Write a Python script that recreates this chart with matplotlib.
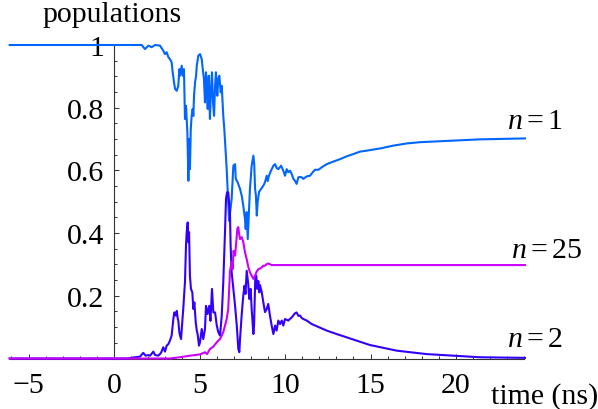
import matplotlib
matplotlib.use("Agg")
import matplotlib.pyplot as plt
from matplotlib.ticker import FixedLocator, MultipleLocator

# ---------------- data ----------------
t_n1 = [-6.1, 1.62, 1.81, 2.01, 2.20, 2.40, 2.69, 2.88, 2.98, 3.08, 3.18, 3.27, 3.37, 3.43,
        3.51, 3.57, 3.67, 3.76, 3.82, 3.86, 3.96, 4.02, 4.09, 4.15, 4.21, 4.29, 4.35, 4.40,
        4.44, 4.49, 4.54, 4.60, 4.64, 4.68, 4.74, 4.80, 4.84, 4.93, 5.03, 5.13, 5.19, 5.26,
        5.32, 5.38, 5.42, 5.48, 5.54, 5.61, 5.67, 5.73, 5.79, 5.85, 5.91, 5.96, 6.04, 6.10,
        6.16, 6.24, 6.30, 6.39, 6.45, 6.51, 6.55, 6.59, 6.73, 6.88, 6.98, 7.08, 7.12, 7.23,
        7.37, 7.47, 7.56, 7.66, 7.70, 7.76, 7.82, 7.89, 7.95, 8.05, 8.15, 8.20, 8.25, 8.30,
        8.35, 8.40, 8.48, 8.60, 8.73, 8.83, 8.93, 8.99, 9.06, 9.18, 9.32, 9.42, 9.51, 9.61,
        9.77, 9.90, 10.00, 10.10, 10.19, 10.29, 10.39, 10.49, 10.58, 10.68, 10.78, 10.88,
        10.98, 11.07, 11.27, 11.46, 11.65, 11.75, 11.95, 12.15, 12.44, 12.82, 13.22, 13.61,
        13.99, 14.39, 14.78, 15.56, 16.33, 17.12, 17.89, 18.67, 19.46, 20.23, 21.40, 24.03]
p_n1 = [1.0, 1.0, 0.987, 0.998, 0.993, 1.0, 0.998, 0.982, 0.971, 0.977, 0.961, 0.955, 0.945, 0.913,
        0.881, 0.860, 0.854, 0.870, 0.923, 0.902, 0.934, 0.902, 0.923, 0.764, 0.806, 0.722, 0.567, 0.700,
        0.604, 0.732, 0.774, 0.796, 0.774, 0.838, 0.881, 0.902, 0.934, 0.966, 0.971, 0.955, 0.923, 0.892,
        0.817, 0.913, 0.860, 0.796, 0.902, 0.764, 0.860, 0.913, 0.817, 0.774, 0.870, 0.913, 0.838, 0.892,
        0.902, 0.849, 0.870, 0.774, 0.732, 0.679, 0.647, 0.604, 0.439, 0.509, 0.615, 0.620, 0.573, 0.562,
        0.541, 0.519, 0.487, 0.445, 0.413, 0.467, 0.381, 0.467, 0.541, 0.615, 0.647, 0.620, 0.541, 0.519,
        0.456, 0.499, 0.531, 0.541, 0.551, 0.562, 0.583, 0.566, 0.583, 0.599, 0.615, 0.620, 0.608, 0.604,
        0.615, 0.599, 0.583, 0.604, 0.594, 0.599, 0.589, 0.573, 0.567, 0.557, 0.578, 0.579,
        0.578, 0.573, 0.581, 0.583, 0.596, 0.602, 0.602, 0.610, 0.620, 0.628, 0.636, 0.645,
        0.652, 0.660, 0.663, 0.670, 0.679, 0.686, 0.690, 0.692, 0.694, 0.696, 0.699, 0.702]

t_n2 = [-6.1, 0.76, 1.23, 1.52, 1.71, 1.85, 2.01, 2.11, 2.30, 2.40, 2.59, 2.75, 2.88, 2.98,
        3.08, 3.18, 3.27, 3.37, 3.47, 3.53, 3.61, 3.67, 3.73, 3.76, 3.82, 3.86, 3.92, 3.99,
        4.05, 4.11, 4.15, 4.21, 4.25, 4.31, 4.35, 4.39, 4.44, 4.50, 4.58, 4.64, 4.70, 4.78,
        4.84, 4.89, 4.97, 5.03, 5.13, 5.22, 5.32, 5.38, 5.47, 5.57, 5.64, 5.73, 5.81, 5.91,
        6.01, 6.10, 6.20, 6.30, 6.39, 6.49, 6.55, 6.61, 6.68, 6.78, 6.82, 6.88, 6.98, 7.08,
        7.18, 7.27, 7.33, 7.37, 7.47, 7.56, 7.63, 7.69, 7.76, 7.85, 7.91, 7.99, 8.05, 8.15,
        8.19, 8.26, 8.32, 8.38, 8.44, 8.50, 8.54, 8.64, 8.73, 8.83, 8.93, 9.02, 9.12, 9.22,
        9.32, 9.42, 9.51, 9.61, 9.71, 9.81, 9.90, 10.00, 10.19, 10.39, 10.58, 10.68, 10.78,
        10.88, 10.98, 11.07, 11.27, 11.56, 11.85, 12.44, 13.02, 13.80, 14.97, 16.53, 18.29,
        19.84, 21.40, 24.03]
p_n2 = [0.0, 0.0, 0.004, 0.006, 0.018, 0.009, 0.011, 0.009, 0.022, 0.011, 0.009, 0.018, 0.036, 0.022,
        0.041, 0.046, 0.057, 0.073, 0.126, 0.147, 0.137, 0.152, 0.126, 0.121, 0.084, 0.073, 0.062, 0.115,
        0.158, 0.211, 0.243, 0.360, 0.403, 0.434, 0.371, 0.403, 0.264, 0.222, 0.211, 0.158, 0.179, 0.115,
        0.089, 0.078, 0.041, 0.052, 0.094, 0.062, 0.094, 0.168, 0.142, 0.168, 0.120, 0.222, 0.147, 0.147,
        0.105, 0.084, 0.073, 0.137, 0.243, 0.403, 0.509, 0.530, 0.530, 0.466, 0.360, 0.275, 0.222, 0.168,
        0.105, 0.030, 0.020, 0.062, 0.142, 0.200, 0.232, 0.206, 0.280, 0.238, 0.190, 0.222, 0.158, 0.078,
        0.105, 0.254, 0.264, 0.222, 0.247, 0.211, 0.234, 0.211, 0.180, 0.148, 0.158, 0.174, 0.137, 0.105,
        0.078, 0.105, 0.089, 0.121, 0.110, 0.121, 0.105, 0.126, 0.121, 0.131, 0.144, 0.147, 0.136,
        0.137, 0.129, 0.126, 0.121, 0.110, 0.103, 0.089, 0.078, 0.064, 0.043, 0.025, 0.014,
        0.009, 0.004, 0.002]

t_n25 = [-6.1, 3.27, 3.86, 4.44, 5.03, 5.32, 5.44, 5.61, 5.81, 6.01, 6.20, 6.39, 6.49, 6.59,
         6.68, 6.74, 6.78, 6.88, 6.94, 6.99, 7.08, 7.18, 7.21, 7.27, 7.31, 7.37, 7.47, 7.56,
         7.66, 7.76, 7.85, 7.95, 8.05, 8.15, 8.25, 8.35, 8.44, 8.54, 8.64, 8.73, 8.83, 8.93,
         9.02, 9.22, 9.71, 24.03]
p_n25 = [0.0, 0.0, 0.004, 0.009, 0.013, 0.020, 0.014, 0.030, 0.038, 0.052, 0.062, 0.084, 0.105, 0.126,
         0.158, 0.228, 0.278, 0.308, 0.285, 0.343, 0.328, 0.391, 0.413, 0.419, 0.400, 0.381, 0.387, 0.371,
         0.339, 0.317, 0.293, 0.275, 0.264, 0.254, 0.264, 0.278, 0.285, 0.287, 0.291, 0.296, 0.296, 0.301,
         0.303, 0.298, 0.298, 0.298]

x_ticks = [-5, 0, 5, 10, 15, 20]
x_tick_labels = ["\u22125", "0", "5", "10", "15", "20"]
y_ticks = [0.2, 0.4, 0.6, 0.8, 1.0]
y_tick_labels = ["0.2", "0.4", "0.6", "0.8", "1"]
curve_labels = ["$n=1$", "$n=25$", "$n=2$"]
colors = ["#0066FF", "#3300FF", "#CC00FF"]

# ---------------- style ----------------
plt.rcParams["font.family"] = ["Liberation Serif", "DejaVu Serif"]
plt.rcParams["mathtext.fontset"] = "custom"
plt.rcParams["mathtext.rm"] = "Liberation Serif"
plt.rcParams["mathtext.it"] = "Liberation Serif:italic"
FS = 21.5

W, H = 598, 410
fig = plt.figure(figsize=(W / 100, H / 100), dpi=100)
ax = fig.add_axes([9.7 / W, (H - 359.5) / H, (524.4 - 9.7) / W, 313.5 / H])
ax.set_xlim(-6.1, 24.0)
ax.set_ylim(0, 1.0)

for s in ("top", "right"):
    ax.spines[s].set_visible(False)
ax.spines["left"].set_position(("data", 0))
ax.spines["bottom"].set_position(("data", 0))
for s in ("left", "bottom"):
    ax.spines[s].set_color("#333333")
    ax.spines[s].set_linewidth(0.8)

ax.xaxis.set_major_locator(FixedLocator(x_ticks))
ax.set_xticklabels(x_tick_labels)
ax.xaxis.set_minor_locator(MultipleLocator(1))
ax.yaxis.set_major_locator(FixedLocator(y_ticks))
ax.set_yticklabels(y_tick_labels)
ax.yaxis.set_minor_locator(MultipleLocator(0.05))

ax.tick_params(which="both", direction="in", color="#333333", width=0.7, labelsize=FS)
ax.tick_params(which="major", length=3.6)
ax.tick_params(which="minor", length=2.0)
ax.tick_params(axis="x", which="major", pad=10.0)
ax.tick_params(axis="y", which="major", pad=7.0)

ax.plot(t_n1, p_n1, color=colors[0], lw=1.5, clip_on=False, zorder=3)
ax.plot(t_n2, p_n2, color=colors[1], lw=1.5, clip_on=False, zorder=4)
ax.plot(t_n25, p_n25, color=colors[2], lw=1.5, clip_on=False, zorder=5)

# curve labels
ax.text(23.0, 0.735, curve_labels[0], fontsize=FS, ha="left", va="baseline")
ax.text(23.2, 0.325, curve_labels[1], fontsize=FS, ha="left", va="baseline")
ax.text(23.0, 0.041, curve_labels[2], fontsize=FS, ha="left", va="baseline")

# axis labels
fig.text(112.5 / W, (H - 22.5) / H, "populations", fontsize=FS, ha="center", va="baseline")
fig.text(491 / W, (H - 404) / H, "time (ns)", fontsize=FS, ha="left", va="baseline")

fig.savefig("out.png", dpi=100)
